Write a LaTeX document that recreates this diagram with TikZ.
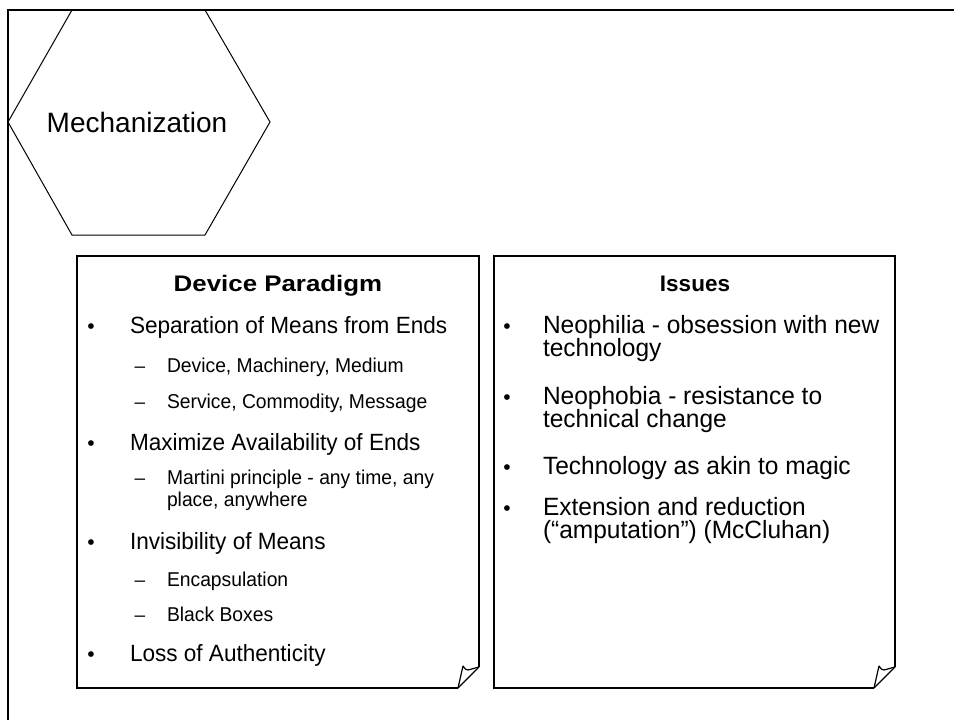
\documentclass[tikz,border=0pt]{standalone}
\usepackage{fontspec}
\setmainfont{Liberation Sans}
\begin{document}
\begin{tikzpicture}[x=1pt,y=-1pt,
  frameline/.style={line width=2pt},
  hexline/.style={line width=1pt},
  boxline/.style={line width=2pt, line join=miter},
  foldline/.style={line width=1.2pt, line join=round},
  headL/.style={anchor=base, font=\fontsize{22.5}{26}\selectfont\bfseries\addfontfeature{FakeStretch=1.15}},
  headR/.style={anchor=base, font=\fontsize{22.5}{26}\selectfont\bfseries},
  bul/.style={anchor=base, font=\fontsize{21}{25}\selectfont},
  mainL/.style={anchor=base west, font=\fontsize{23.5}{25}\selectfont\addfontfeature{FakeStretch=0.96}},
  mainR/.style={anchor=base west, font=\fontsize{25}{26}\selectfont\addfontfeature{FakeStretch=0.98}},
  dsh/.style={anchor=base, font=\fontsize{19}{20}\selectfont},
  subitem/.style={anchor=base west, font=\fontsize{20}{20}\selectfont\addfontfeature{FakeStretch=0.965}},
  inner sep=0pt, outer sep=0pt]
\useasboundingbox (0,0) rectangle (954,720);

% slide frame (only top and left edges are visible)
\draw[frameline] (8,722) -- (8,10) -- (956,10);

% hexagon
\draw[hexline] (72,10) -- (205,10) -- (270,122) -- (205,235) -- (72,235) -- (8,122) -- cycle;
\node[anchor=base, font=\fontsize{28}{30}\selectfont] (mech) at (137,132) {Mechanization};

% left note with folded corner
\draw[boxline] (458,688) -- (77,688) -- (77,256) -- (479,256) -- (479,667);
\draw[foldline] (458,688) -- (479,667);
\draw[foldline] (458,688) -- (463,666) .. controls (465,669) and (466,670) .. (468,670) -- (479,667);

% right note with folded corner
\draw[boxline] (874,688) -- (494,688) -- (494,256) -- (895,256) -- (895,667);
\draw[foldline] (874,688) -- (895,667);
\draw[foldline] (874,688) -- (879,666) .. controls (881,669) and (882,670) .. (884,670) -- (895,667);

% left note text
\node[headL] (dp) at (278,291) {Device Paradigm};
\node[bul] (b1) at (91,333) {•};
\node[mainL] (t1) at (130,333) {Separation of Means from Ends};
\node[dsh] (d1) at (140,372) {–};
\node[subitem] (s1) at (167,372) {Device, Machinery, Medium};
\node[dsh] (d2) at (140,408) {–};
\node[subitem] (s2) at (167,408) {Service, Commodity, Message};
\node[bul] (b2) at (91,450) {•};
\node[mainL] (t2) at (130,450) {Maximize Availability of Ends};
\node[dsh] (d3) at (140,484) {–};
\node[subitem] (s3) at (167,484) {Martini principle - any time, any};
\node[subitem] (s3b) at (167,506) {place, anywhere};
\node[bul] (b3) at (91,549) {•};
\node[mainL] (t3) at (130,549) {Invisibility of Means};
\node[dsh] (d4) at (140,586) {–};
\node[subitem] (s4) at (167,586) {Encapsulation};
\node[dsh] (d5) at (140,621) {–};
\node[subitem] (s5) at (167,621) {Black Boxes};
\node[bul] (b4) at (91,661) {•};
\node[mainL] (t4) at (130,661) {Loss of Authenticity};

% right note text
\node[headR] (is) at (695,291) {Issues};
\node[bul] (c1) at (507,333) {•};
\node[mainR] (u1) at (543,333) {Neophilia - obsession with new};
\node[mainR] (u1b) at (543,356) {technology};
\node[bul] (c2) at (507,404) {•};
\node[mainR] (u2) at (543,404) {Neophobia - resistance to};
\node[mainR] (u2b) at (543,427) {technical change};
\node[bul] (c3) at (507,474) {•};
\node[mainR] (u3) at (543,474) {Technology as akin to magic};
\node[bul] (c4) at (507,515) {•};
\node[mainR] (u4) at (543,515) {Extension and reduction};
\node[mainR] (u4b) at (543,538) {(“amputation”) (McCluhan)};
\end{tikzpicture}
\end{document}
